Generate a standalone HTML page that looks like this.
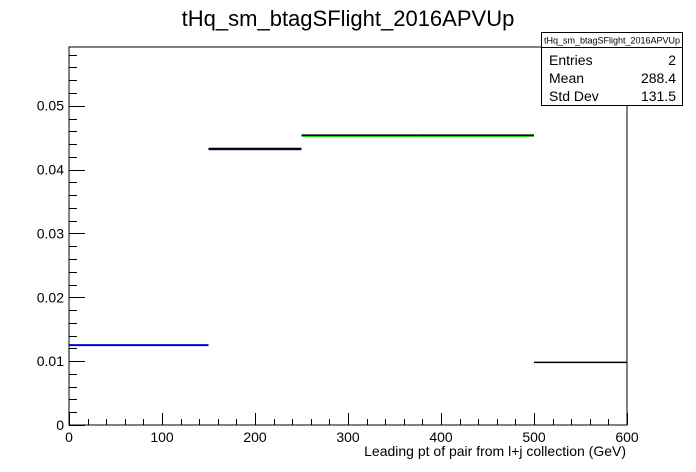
<!DOCTYPE html>
<html><head><meta charset="utf-8"><style>
body{margin:0;background:#fff;}
svg{display:block;font-family:"Liberation Sans",sans-serif;}
</style></head><body>
<svg width="696" height="472" viewBox="0 0 696 472">
<rect width="696" height="472" fill="#fff"/>
<text x="348" y="26" font-size="22" text-anchor="middle">tHq_sm_btagSFlight_2016APVUp</text>
<g id="axes"></g>
<g id="marks"></g>
<rect x="69" y="47" width="558" height="378" fill="none" stroke="#000" stroke-width="1"/>
<text x="626" y="456" font-size="14" text-anchor="end">Leading pt of pair from l+j collection (GeV)</text>
<g>
<rect x="541.5" y="32.5" width="141" height="73" fill="#fff" stroke="#000"/>
<line x1="541.5" y1="47.5" x2="682.5" y2="47.5" stroke="#000"/>
<text x="612" y="43.5" font-size="9" text-anchor="middle">tHq_sm_btagSFlight_2016APVUp</text>
<text x="549" y="65" font-size="14">Entries</text><text x="676" y="65" font-size="14" text-anchor="end">2</text>
<text x="549" y="83" font-size="14">Mean</text><text x="676" y="83" font-size="14" text-anchor="end">288.4</text>
<text x="549" y="101" font-size="14">Std Dev</text><text x="676" y="101" font-size="14" text-anchor="end">131.5</text>
</g>
</svg>
<script>
const binLow = [0, 150, 250, 375, 500];
const binHigh = [150, 250, 375, 500, 600];
const binValues = [0.0125, 0.0433, 0.0454, 0.0454, 0.0098];
const binColors = ["#0000dd", "#000", "#000", "#000", "#000"];
const xTickLabels = ["0","100","200","300","400","500","600"];
const yTickLabels = ["0","0.01","0.02","0.03","0.04","0.05"];
const X0=69,X1=627,Y0=425,Y1=47,XMAX=600,YMAX=0.0592;
const sx=v=>X0+(X1-X0)*v/XMAX;
const sy=v=>Y0-(Y0-Y1)*v/YMAX;
const NS="http://www.w3.org/2000/svg";
const axes=document.getElementById('axes'),marks=document.getElementById('marks');
function ln(p,x1,y1,x2,y2,c,w){const l=document.createElementNS(NS,'line');l.setAttribute('x1',x1);l.setAttribute('y1',y1);l.setAttribute('x2',x2);l.setAttribute('y2',y2);l.setAttribute('stroke',c);l.setAttribute('stroke-width',w);p.appendChild(l);return l;}
function tx(p,x,y,s,a){const t=document.createElementNS(NS,'text');t.setAttribute('x',x);t.setAttribute('y',y);t.setAttribute('font-size',14);t.setAttribute('text-anchor',a);t.textContent=s;p.appendChild(t);return t;}
for(let v=0;v<=XMAX+0.01;v+=20){const x=Math.round(sx(v))+0.5;const major=Math.abs(v%100)<0.01;const l=ln(axes,x,Y0,x,Y0-(major?12:6),'#000',1);

}
xTickLabels.forEach(s=>{const t=tx(axes,sx(+s),Y0+17,s,'middle');

});
for(let v=0;v<=YMAX;v+=0.002){const y=Math.round(sy(v))+0.5;const major=Math.abs(Math.round(v*1000)%10)<0.5;const l=ln(axes,X0,y,X0+(major?16:8),y,'#000',1);

}
yTickLabels.forEach(s=>{const t=tx(axes,X0-5,sy(+s)+5,s,'end');

});
binValues.forEach((v,i)=>{const y=sy(v);
if(i>=2&&i<=3){const g=ln(marks,sx(binLow[i]),y+1,sx(binHigh[i]),y+1,'#00cc00',1.5);

}
if(i===1){const b=ln(marks,sx(binLow[i]),y+1,sx(binHigh[i]),y+1,'#0000dd',1.5);

}
const l=ln(marks,sx(binLow[i]),y,sx(binHigh[i]),y,binColors[i],i===0?2:1.5);

});
</script>
</body></html>
